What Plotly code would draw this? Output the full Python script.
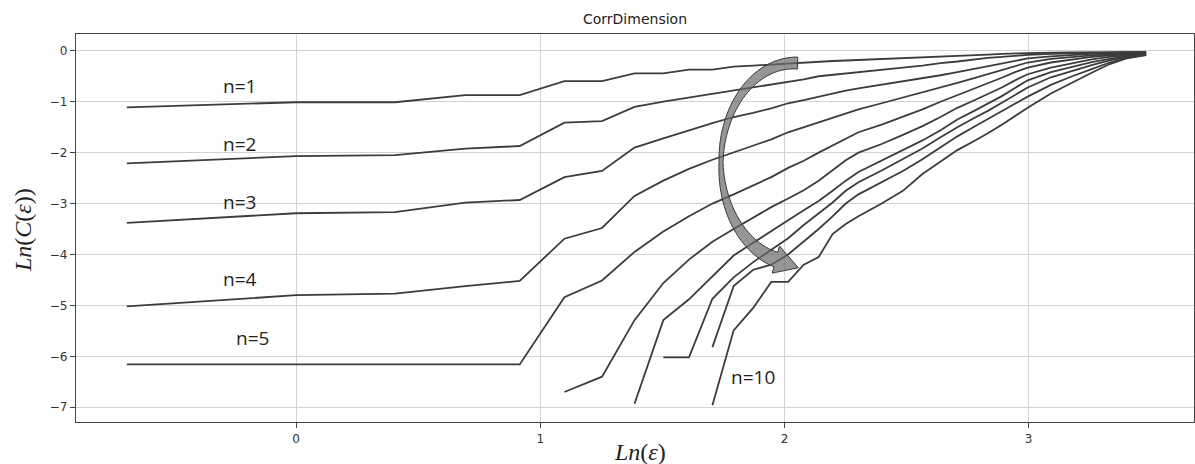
import math
import plotly.graph_objects as go

# ---------------- data ----------------
LN_EPS = [-0.693, 0.0, 0.405, 0.693, 0.916, 1.099, 1.253, 1.386, 1.504, 1.609,
          1.705, 1.792, 1.872, 1.946, 2.015, 2.079, 2.140, 2.197, 2.251, 2.303,
          2.398, 2.485, 2.565, 2.639, 2.708, 2.773, 2.833, 2.890, 2.944, 2.996,
          3.091, 3.178, 3.258, 3.332, 3.401, 3.481]

N1 = [-1.11, -1.01, -1.01, -0.87, -0.87, -0.595, -0.595, -0.445, -0.445, -0.37,
      -0.37, -0.31, -0.29, -0.27, -0.25, -0.22, -0.21, -0.20, -0.19, -0.18,
      -0.16, -0.145, -0.13, -0.12, -0.11, -0.09, -0.075, -0.06, -0.05, -0.04,
      -0.035, -0.03, -0.03, -0.025, -0.025, -0.02]
N2 = [-2.21, -2.07, -2.05, -1.92, -1.87, -1.41, -1.38, -1.10, -1.00, -0.92,
      -0.85, -0.79, -0.73, -0.67, -0.61, -0.56, -0.50, -0.47, -0.44, -0.42,
      -0.37, -0.33, -0.29, -0.24, -0.21, -0.17, -0.14, -0.12, -0.10, -0.08,
      -0.06, -0.05, -0.04, -0.035, -0.03, -0.03]
N3 = [-3.38, -3.19, -3.17, -2.98, -2.93, -2.48, -2.36, -1.90, -1.72, -1.56,
      -1.42, -1.30, -1.22, -1.13, -1.03, -0.97, -0.90, -0.84, -0.78, -0.74,
      -0.67, -0.60, -0.54, -0.48, -0.42, -0.36, -0.30, -0.25, -0.19, -0.15,
      -0.11, -0.08, -0.06, -0.05, -0.045, -0.04]
N4 = [-5.02, -4.80, -4.77, -4.62, -4.52, -3.69, -3.48, -2.85, -2.55, -2.32,
      -2.14, -2.00, -1.87, -1.74, -1.60, -1.50, -1.40, -1.31, -1.22, -1.15,
      -1.03, -0.92, -0.82, -0.72, -0.63, -0.54, -0.46, -0.38, -0.30, -0.23,
      -0.16, -0.12, -0.09, -0.07, -0.055, -0.045]
N5 = [-6.16, -6.16, -6.16, -6.16, -6.16, -4.84, -4.51, -3.95, -3.55, -3.25,
      -3.00, -2.82, -2.65, -2.48, -2.30, -2.16, -2.00, -1.86, -1.72, -1.60,
      -1.45, -1.30, -1.15, -1.00, -0.87, -0.76, -0.64, -0.53, -0.42, -0.33,
      -0.23, -0.17, -0.12, -0.09, -0.07, -0.05]
N6 = [None, None, None, None, None, -6.70, -6.40, -5.29, -4.56, -4.10,
      -3.75, -3.50, -3.27, -3.07, -2.90, -2.74, -2.55, -2.35, -2.15, -2.00,
      -1.83, -1.65, -1.48, -1.30, -1.12, -0.98, -0.85, -0.72, -0.58, -0.46,
      -0.33, -0.24, -0.17, -0.12, -0.09, -0.06]
N7 = [None, None, None, None, None, None, None, -6.93, -5.29, -4.88,
      -4.42, -4.02, -3.77, -3.55, -3.33, -3.13, -2.95, -2.75, -2.55, -2.38,
      -2.15, -1.95, -1.76, -1.56, -1.35, -1.19, -1.04, -0.89, -0.73, -0.58,
      -0.42, -0.31, -0.22, -0.16, -0.11, -0.07]
N8 = [None, None, None, None, None, None, None, None, -6.02, -6.02,
      -4.87, -4.45, -4.15, -3.90, -3.68, -3.42, -3.20, -2.98, -2.75, -2.58,
      -2.35, -2.13, -1.92, -1.70, -1.50, -1.33, -1.18, -1.02, -0.86, -0.72,
      -0.52, -0.39, -0.28, -0.19, -0.12, -0.075]
N9 = [None, None, None, None, None, None, None, None, None, None,
      -5.82, -4.62, -4.30, -4.20, -4.00, -3.75, -3.50, -3.25, -3.00, -2.82,
      -2.58, -2.36, -2.13, -1.90, -1.68, -1.50, -1.34, -1.18, -1.03, -0.90,
      -0.67, -0.50, -0.36, -0.23, -0.14, -0.08]
N10 = [None, None, None, None, None, None, None, None, None, None,
       -6.96, -5.49, -5.05, -4.54, -4.54, -4.20, -4.05, -3.60, -3.40, -3.25,
       -3.00, -2.75, -2.42, -2.18, -1.95, -1.78, -1.62, -1.45, -1.28, -1.12,
       -0.84, -0.62, -0.43, -0.26, -0.15, -0.085]

SERIES = [N1, N2, N3, N4, N5, N6, N7, N8, N9, N10]

X_TICKS = [0, 1, 2, 3]
Y_TICKS = [-7, -6, -5, -4, -3, -2, -1, 0]
Y_TICK_TEXT = ["\u22127", "\u22126", "\u22125", "\u22124", "\u22123", "\u22122", "\u22121", "0"]

LABELS = ["n=1", "n=2", "n=3", "n=4", "n=5", "n=10"]
LABEL_X = [-0.23, -0.23, -0.23, -0.23, -0.18, 1.87]
LABEL_Y = [-0.69, -1.84, -2.97, -4.49, -5.65, -6.40]

# ---------------- layout geometry ----------------
W, H = 1195, 464
ML, MR, MT, MB = 76, 1, 34, 42
X_RANGE = [-0.901, 3.677]
Y_RANGE = [-7.29, 0.33]

PW = W - ML - MR
PH = H - MT - MB


def px2x(px):
    return X_RANGE[0] + (px - ML) / PW * (X_RANGE[1] - X_RANGE[0])


def px2y(py):
    return Y_RANGE[1] - (py - MT) / PH * (Y_RANGE[1] - Y_RANGE[0])


fig = go.Figure()
for ys in SERIES:
    fig.add_trace(go.Scatter(
        x=LN_EPS, y=ys, mode="lines",
        line=dict(color="#3c3c3c", width=1.8),
        hoverinfo="skip", showlegend=False))

# ---------------- curved arrow decoration (pixel geometry) ----------------
cx, cy, rx, ry = 795.0, 163.0, 74.0, 100.0
th0, th1 = -88.0, -255.0
steps = 60
outer, inner = [], []
for i in range(steps + 1):
    t = i / steps
    th = math.radians(th0 + (th1 - th0) * t)
    if t < 0.55:
        w = 12 - 8 * (t / 0.55)
    else:
        w = 4 + 11 * ((t - 0.55) / 0.45)
    px = cx + rx * math.cos(th)
    py = cy + ry * math.sin(th)
    nx, ny = math.cos(th), math.sin(th)
    outer.append((px + nx * w / 2, py + ny * w / 2))
    inner.append((px - nx * w / 2, py - ny * w / 2))

th = math.radians(th1)
ex, ey = cx + rx * math.cos(th), cy + ry * math.sin(th)
tx, ty = rx * math.sin(th), -ry * math.cos(th)
tl = math.hypot(tx, ty)
tx, ty = tx / tl, ty / tl
nx, ny = math.cos(th), math.sin(th)
head_o = (ex + nx * 14, ey + ny * 14)
head_i = (ex - nx * 14, ey - ny * 14)
tip = (ex + tx * 24, ey + ty * 24)

pts = outer + [head_o, tip, head_i] + inner[::-1]
path = "M " + " L ".join(f"{px2x(a):.4f},{px2y(b):.4f}" for a, b in pts) + " Z"
fig.add_shape(type="path", path=path, xref="x", yref="y",
              fillcolor="rgba(105,105,105,0.7)",
              line=dict(color="#3a3a3a", width=1), layer="above")

# ---------------- labels ----------------
for txt, lx, ly in zip(LABELS, LABEL_X, LABEL_Y):
    fig.add_annotation(x=lx, y=ly, text=txt, showarrow=False,
                       xref="x", yref="y", xanchor="center", yanchor="middle",
                       font=dict(family="Open Sans", size=19, color="#1e1e1e"))

fig.add_annotation(x=(23 - ML) / PW, y=(H - MB - 230) / PH, xref="paper", yref="paper",
                   text="<i>Ln</i>(<i>C</i>(<i>ε</i>))", showarrow=False, textangle=-90,
                   xanchor="center", yanchor="middle",
                   font=dict(family="Liberation Serif", size=24, color="#222"))
fig.add_annotation(x=(640 - ML) / PW, y=(H - MB - 452) / PH, xref="paper", yref="paper",
                   text="<i>Ln</i>(<i>ε</i>)", showarrow=False,
                   xanchor="center", yanchor="middle",
                   font=dict(family="Liberation Serif", size=24, color="#222"))

axis_common = dict(showgrid=True, gridcolor="#d2d2d2", gridwidth=1, zeroline=False,
                   showline=True, mirror=True, linecolor="#444", linewidth=1.3,
                   ticks="outside", ticklen=5, tickcolor="#444",
                   tickfont=dict(family="DejaVu Sans", size=12, color="#333"))

fig.update_layout(
    width=W, height=H,
    margin=dict(l=ML, r=MR, t=MT, b=MB),
    paper_bgcolor="white", plot_bgcolor="white",
    showlegend=False,
    title=dict(text="CorrDimension", x=(ML + PW / 2) / W, xanchor="center",
               y=1 - 19 / H, yanchor="middle",
               font=dict(family="DejaVu Sans", size=14, color="#222")),
    xaxis=dict(range=X_RANGE, tickvals=X_TICKS, ticktext=[str(v) for v in X_TICKS], **axis_common),
    yaxis=dict(range=Y_RANGE, tickvals=Y_TICKS, ticktext=Y_TICK_TEXT, **axis_common),
)

fig.write_html("out.html")
